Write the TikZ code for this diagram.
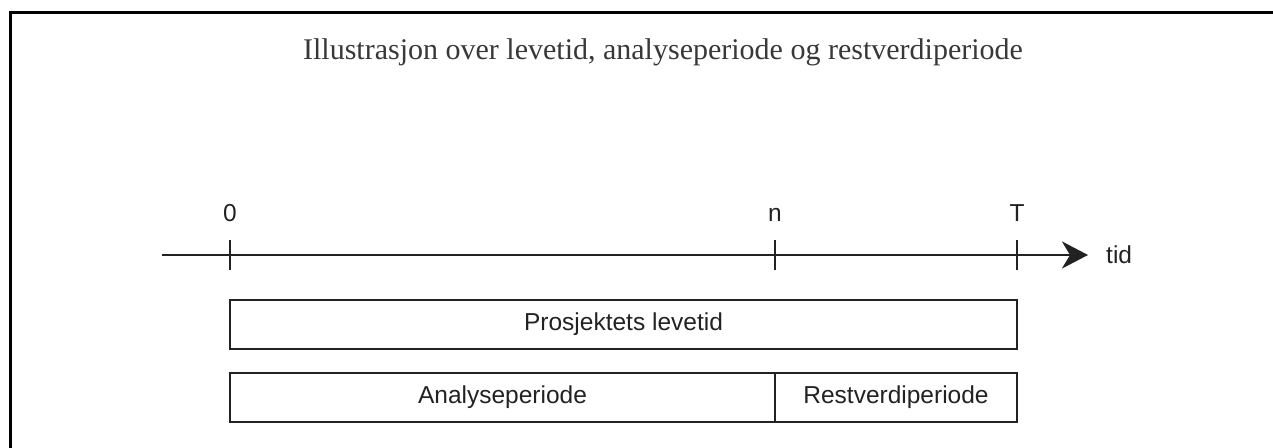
\documentclass[tikz,border=0pt]{standalone}
\usepackage{fontspec}
\setmainfont{Liberation Serif}
\setsansfont{Liberation Sans}
\usetikzlibrary{arrows.meta}
\definecolor{ink}{HTML}{222222}
\begin{document}
\begin{tikzpicture}[x=1pt,y=-1pt,
  lbl/.style={font=\sffamily\fontsize{24.5}{28}\selectfont, text=ink, inner sep=0pt},
  period/.style={draw=ink, line width=2.8pt, minimum height=49pt, inner sep=0pt, font=\sffamily\fontsize{24.5}{28}\selectfont, text=ink},
  tick/.style={draw=ink, line width=2.8pt},
  axisline/.style={draw=ink, line width=2.8pt, -{Stealth[length=26pt,width=27pt,inset=8pt]}}]
\useasboundingbox (0,0) rectangle (1273,447);
% frame
\draw[line width=3pt] (10,450) -- (10,12) -- (1276,12);
% title
\node[text=ink!90] (title) at (663,52) {\fontsize{30}{34}\selectfont Illustrasjon over levetid, analyseperiode og restverdiperiode};
% axis
\coordinate (a0) at (162,255);
\coordinate (a1) at (1088,255);
\draw[axisline] (a0) -- (a1);
\coordinate (t0) at (230,255);
\coordinate (tn) at (775,255);
\coordinate (tT) at (1017,255);
\foreach \c in {t0,tn,tT}{
  \draw[tick] ([yshift=-15pt]\c) -- ([yshift=15pt]\c);
}
\node[lbl, anchor=base] (l0) at (230,221) {0};
\node[lbl, anchor=base] (ln) at (775,221) {n};
\node[lbl, anchor=base] (lT) at (1017,221) {T};
\node[lbl, anchor=west] (ltid) at (1106,255) {tid};
% boxes
\node[period, minimum width=787pt] (prosj) at (623.5,324.5) {Prosjektets levetid};
\node[period, minimum width=545pt] (analyse) at (502.5,397.5) {Analyseperiode};
\node[period, minimum width=242pt] (rest) at (896,397.5) {Restverdiperiode};
\end{tikzpicture}
\end{document}
